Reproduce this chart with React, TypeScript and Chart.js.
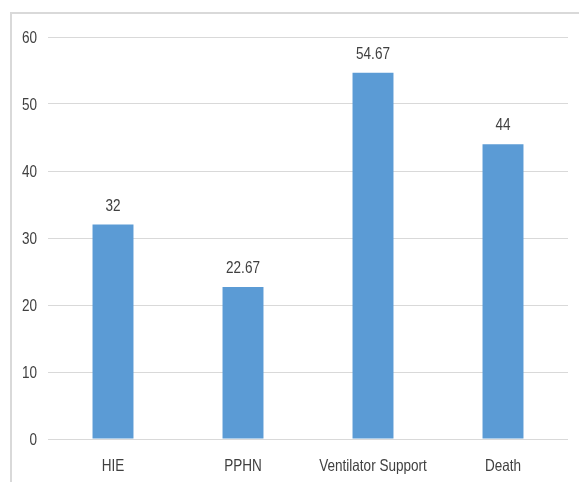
import React, { useEffect, useRef } from "react";
import { Chart, registerables } from "chart.js";

Chart.register(...registerables);

const categories = ["HIE", "PPHN", "Ventilator Support", "Death"];
const values = [32, 22.67, 54.67, 44];
const yTicks = [0, 10, 20, 30, 40, 50, 60];

const FONT = "'Liberation Sans', Arial, sans-serif";
const FONT_SIZE = 16.5;
const NARROW = 0.82;
const TEXT_COLOR = "#404040";

function narrowText(ctx: any, text: string, x: number, y: number, align: string) {
  ctx.save();
  ctx.translate(x, y);
  ctx.scale(NARROW, 1);
  ctx.textAlign = align;
  ctx.textBaseline = "alphabetic";
  ctx.fillText(text, 0, 0);
  ctx.restore();
}

const narrowLabels = {
  id: "narrowLabels",
  afterDraw(chart: any) {
    const ctx = chart.ctx;
    ctx.save();
    ctx.font = `${FONT_SIZE}px ${FONT}`;
    ctx.fillStyle = TEXT_COLOR;
    const yScale = chart.scales.y;
    const xScale = chart.scales.x;
    yScale.ticks.forEach((t: any) => {
      const py = yScale.getPixelForValue(t.value);
      narrowText(ctx, String(t.value), chart.chartArea.left - 11, py + 6, "right");
    });
    categories.forEach((c, i) => {
      const px = xScale.getPixelForTick(i);
      narrowText(ctx, c, px, chart.chartArea.bottom + 32, "center");
    });
    const meta = chart.getDatasetMeta(0);
    meta.data.forEach((el: any, i: number) => {
      narrowText(ctx, String(values[i]), el.x, el.y - 14, "center");
    });
    ctx.restore();
  },
};

export default function App() {
  const ref = useRef<HTMLCanvasElement>(null);
  useEffect(() => {
    if (!ref.current) return;
    const chart = new Chart(ref.current, {
      type: "bar",
      data: {
        labels: categories,
        datasets: [
          {
            data: values,
            backgroundColor: "#5b9bd5",
            borderWidth: 0,
            barPercentage: 0.315,
            categoryPercentage: 1,
          },
        ],
      },
      options: {
        animation: false,
        responsive: false,
        maintainAspectRatio: false,
        layout: { padding: { left: 0, right: 11, top: 37, bottom: 0 } },
        plugins: {
          legend: { display: false },
          tooltip: { enabled: false },
        },
        scales: {
          x: {
            grid: { display: false, drawTicks: false },
            border: { display: false },
            ticks: {
              color: "rgba(0,0,0,0)",
              font: { family: FONT, size: FONT_SIZE },
              padding: 17,
              maxRotation: 0,
              autoSkip: false,
            },
            afterFit: (s: any) => {
              s.height = 43;
            },
          },
          y: {
            min: 0,
            max: 60,
            afterBuildTicks: (s: any) => {
              s.ticks = yTicks.map((v) => ({ value: v }));
            },
            grid: { color: "#d9d9d9", lineWidth: 1, drawTicks: false },
            border: { display: false },
            ticks: {
              color: "rgba(0,0,0,0)",
              font: { family: FONT, size: FONT_SIZE },
              padding: 11,
            },
            afterFit: (s: any) => {
              s.width = 48;
            },
          },
        },
      },
      plugins: [narrowLabels],
    });
    return () => chart.destroy();
  }, []);

  return (
    <div style={{ position: "fixed", left: 0, top: 0, width: 579, height: 482, background: "#fff" }}>
      <div
        style={{
          position: "absolute",
          left: 10,
          top: 12,
          width: 569,
          height: 470,
          borderLeft: "2px solid #d9d9d9",
          borderTop: "2px solid #d9d9d9",
          boxSizing: "border-box",
        }}
      />
      <canvas ref={ref} width={579} height={482} style={{ position: "absolute", left: 0, top: 0 }} />
    </div>
  );
}
